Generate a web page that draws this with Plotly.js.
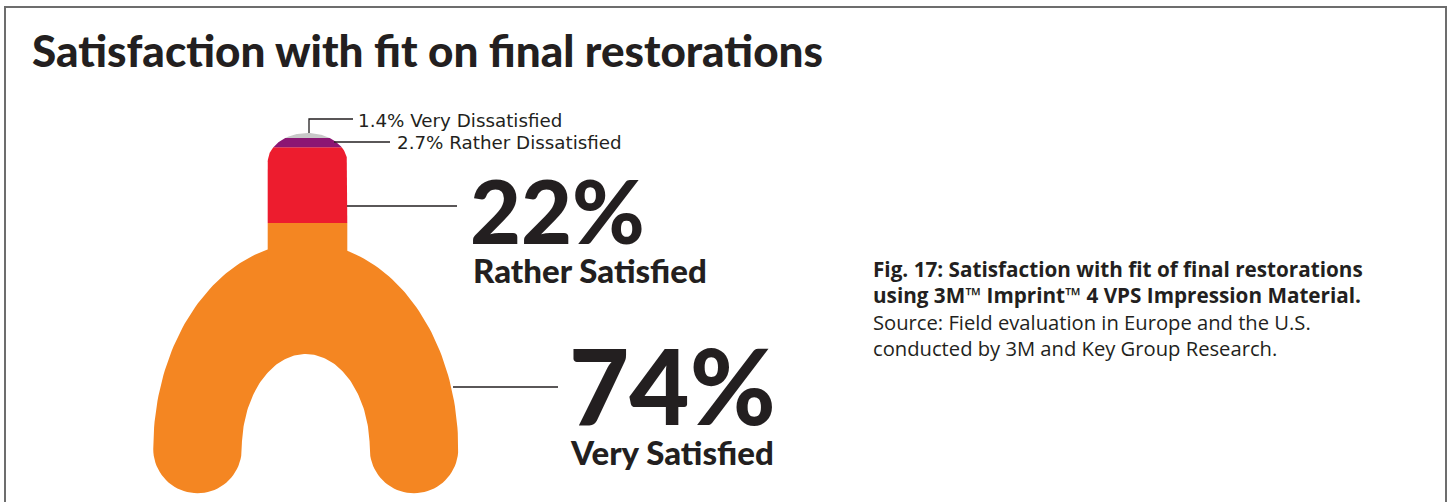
<!DOCTYPE html>
<html><head><meta charset="utf-8">
<script src="https://cdn.plot.ly/plotly-3.0.1.min.js"></script>
<style>html,body{margin:0;padding:0;background:#fff;}#chart{width:1452px;height:502px;}</style>
</head><body><div id="chart"></div>
<script>
// ---- data ----
const categories = ['Very Satisfied', 'Rather Satisfied', 'Rather Dissatisfied', 'Very Dissatisfied'];
const values = [74, 22, 2.7, 1.4];
const colors = ['#F48622', '#ED1C2E', '#8C1673', '#C8C8C8'];
const titleText = 'Satisfaction with fit on final restorations';
const captionBold = ['Fig. 17: Satisfaction with fit of final restorations', 'using 3M\u2122 Imprint\u2122 4 VPS Impression Material.'];
const captionRegular = ['Source: Field evaluation in Europe and the U.S.', 'conducted by 3M and Key Group Research.'];

// ---- geometry (pixel space of the tray drawing) ----
const TRAY = {cx: 305.75, cy: 449, outerA: 152.5, outerB: 206, innerA: 64, innerB: 95, capR: 44.25};
const HANDLE = {cx: 307.5, halfW: 39.8, top: 133, capB: 29.3, bottom: 262};
// band edges in the handle, top to bottom: gray | purple | red | orange
const bandEdges = [133, 138, 147.3, 223, 262];
const INK = '#231F20';
const HEAVY = 'Lato, "Open Sans", sans-serif';
const LIGHT = '"Open Sans", "Noto Sans", sans-serif';
const WIDE = '"DejaVu Sans", "Open Sans", sans-serif';

function handleHalfWidth(y) {
  const c = HANDLE.top + HANDLE.capB;
  if (y >= c) return HANDLE.halfW;
  const d = (c - y) / HANDLE.capB;
  return HANDLE.halfW * Math.sqrt(Math.max(0, 1 - d * d));
}
function bandPolygon(y1, y2) {
  const xs = [], ys = [], N = 60;
  for (let i = 0; i <= N; i++) { const y = y1 + (y2 - y1) * i / N; xs.push(HANDLE.cx - handleHalfWidth(y)); ys.push(y); }
  for (let i = N; i >= 0; i--) { const y = y1 + (y2 - y1) * i / N; xs.push(HANDLE.cx + handleHalfWidth(y)); ys.push(y); }
  return {xs, ys};
}
function archPolygon() {
  const xs = [], ys = [], N = 120, T = TRAY, off = T.outerA - T.capR;
  for (let i = 0; i <= N; i++) { const t = Math.PI * (1 - i / N); xs.push(T.cx + T.outerA * Math.cos(t)); ys.push(T.cy - T.outerB * Math.sin(t)); }
  for (let i = 0; i <= 40; i++) { const t = Math.PI * i / 40; xs.push(T.cx + off + T.capR * Math.cos(t)); ys.push(T.cy + T.capR * Math.sin(t)); }
  for (let i = 0; i <= N; i++) { const t = Math.PI * i / N; xs.push(T.cx + T.innerA * Math.cos(t)); ys.push(T.cy - T.innerB * Math.sin(t)); }
  for (let i = 0; i <= 40; i++) { const t = Math.PI * i / 40; xs.push(T.cx - off + T.capR * Math.cos(t)); ys.push(T.cy + T.capR * Math.sin(t)); }
  return {xs, ys};
}

const traces = [];
function addFill(p, color, name) {
  traces.push({type: 'scatter', mode: 'lines', x: p.xs, y: p.ys, fill: 'toself', fillcolor: color,
    line: {width: 0, color: color}, hoverinfo: 'skip', name: name});
}
// Very Satisfied: the arch plus the bottom of the handle
addFill(archPolygon(), colors[0], categories[0]);
addFill(bandPolygon(bandEdges[3], bandEdges[4]), colors[0], categories[0]);
addFill(bandPolygon(bandEdges[2], bandEdges[3]), colors[1], categories[1]);
addFill(bandPolygon(bandEdges[1], bandEdges[2]), colors[2], categories[2]);
addFill(bandPolygon(bandEdges[0], bandEdges[1]), colors[3], categories[3]);

const lineStyle = {color: INK, width: 1.3};
const shapes = [
  {type: 'path', xref: 'x', yref: 'y', path: 'M5,502 L5,7 L1446,7 L1446,502', line: {color: '#6d6d6d', width: 2}},
  {type: 'path', xref: 'x', yref: 'y', path: 'M309,133 L309,119 L353,119', line: lineStyle},
  {type: 'line', xref: 'x', yref: 'y', x0: 334, x1: 390, y0: 142, y1: 142, line: lineStyle},
  {type: 'line', xref: 'x', yref: 'y', x0: 347, x1: 457, y0: 206, y1: 206, line: lineStyle},
  {type: 'line', xref: 'x', yref: 'y', x0: 453, x1: 558, y0: 387, y1: 387, line: lineStyle}
];

function ann(text, x, y, size, family, weight) {
  return {text: text, x: x, y: y, xref: 'x', yref: 'y',
    xanchor: 'left', yanchor: 'middle', showarrow: false, align: 'left',
    font: {family: family, size: size, color: INK, weight: weight}};
}
const captionText = captionBold.map(s => '<b><span style="font-size:20.7px">' + s + '</span></b>').concat(captionRegular).join('<br>');
const annotations = [
  ann(titleText, 30, 50, 44, HEAVY, 900),
  ann(values[3] + '% ' + categories[3], 356, 120, 18.3, WIDE, 400),
  ann(values[2] + '% ' + categories[2], 395, 142.5, 18.3, WIDE, 400),
  ann(values[1] + '%', 468, 210, 88, HEAVY, 900),
  ann(categories[1], 471, 270, 33, HEAVY, 900),
  ann(values[0] + '%', 567, 384, 104, HEAVY, 900),
  ann(categories[0], 568, 452, 33, HEAVY, 900),
  ann(captionText, 871, 308, 20.2, LIGHT, 400)
];

const layout = {
  width: 1452, height: 502, margin: {l: 0, r: 0, t: 0, b: 0},
  paper_bgcolor: '#fff', plot_bgcolor: '#fff', showlegend: false,
  xaxis: {range: [0, 1452], visible: false, fixedrange: true},
  yaxis: {range: [502, 0], visible: false, fixedrange: true},
  shapes: shapes, annotations: annotations, hovermode: false
};
Plotly.newPlot('chart', traces, layout, {displayModeBar: false, staticPlot: true});
</script></body></html>
